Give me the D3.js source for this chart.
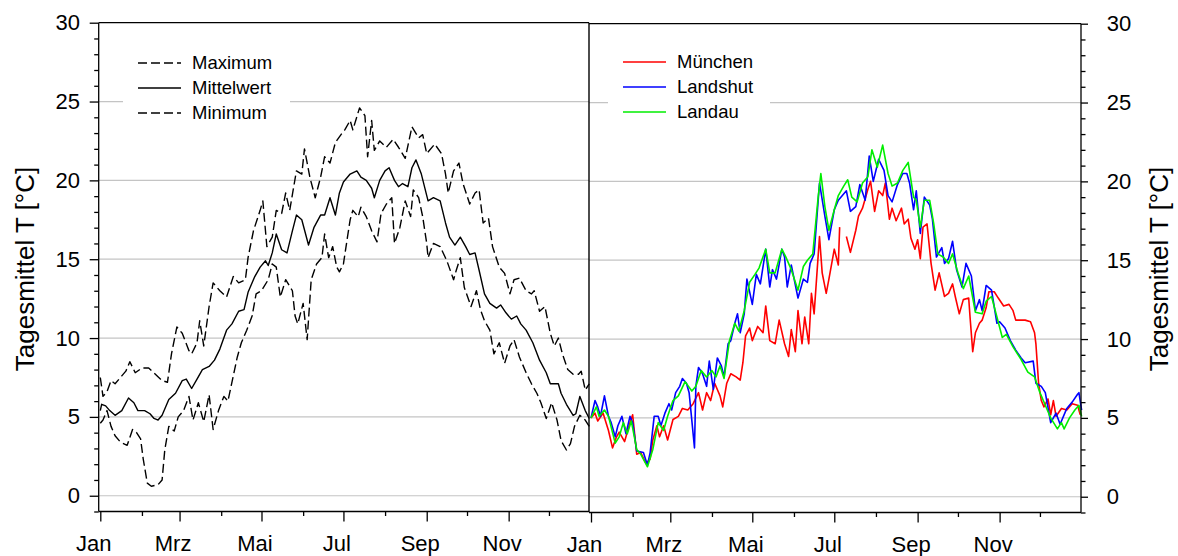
<!DOCTYPE html>
<html>
<head>
<meta charset="utf-8">
<script src="https://cdn.jsdelivr.net/npm/d3@7"></script>
<style>
    body { margin: 0; background: #fff; }
    svg { display: block; font-family: "Liberation Sans", Arial, sans-serif; }
</style>
</head>
<body>
<svg width="1178" height="556"></svg>
<script>
// [day of year, temperature]
let maxData = [[0,7.5],[2,6.3],[5,6.6],[8,7.3],[11,7.1],[16,7.6],[19,7.9],[22,8.5],[26,7.8],[31,8.1],[36,8.1],[41,7.7],[46,7.3],[50,7.2],[53,9.0],[57,10.7],[61,10.3],[66,9.2],[68,9.0],[72,9.7],[74,11.1],[77,9.5],[81,12.0],[84,13.5],[89,13.0],[94,12.6],[99,13.9],[103,13.5],[108,13.7],[110,15.1],[114,16.8],[119,18.1],[121,18.7],[124,15.8],[128,16.4],[131,18.1],[135,17.9],[138,19.2],[141,18.1],[144,19.6],[146,20.6],[150,20.4],[152,22.0],[156,20.2],[160,18.9],[164,20.2],[167,21.5],[171,21.1],[175,22.4],[180,23.0],
    [182,23.2],[186,23.8],[188,23.2],[193,24.6],[197,24.1],[199,21.5],[202,23.8],[204,21.9],[208,22.5],[213,22.1],[218,22.6],[222,22.1],[227,21.4],[232,23.4],[237,22.7],[240,22.9],[243,21.7],[249,22.3],[254,21.7],[257,20.4],[259,19.2],[263,20.6],[267,21.1],[270,19.8],[275,18.5],[279,19.2],[282,19.4],[285,17.3],[289,17.6],[292,15.8],[297,14.5],[301,14.1],[305,12.8],[308,13.7],[312,13.8],[317,13.0],[321,12.8],[323,13.0],[327,11.7],[331,12.0],[335,10.3],[338,9.5],[341,10.0],[344,9.0],[348,8.0],[352,7.7],[356,7.7],[358,7.9],[361,6.7],[364,7.1]];

let meanData = [[0,5.4],[1,5.8],[4,5.7],[7,5.4],[11,5.1],[16,5.4],[21,6.2],[25,5.9],[28,5.4],[33,5.4],[37,5.2],[40,4.9],[43,4.8],[46,5.1],[51,6.1],[56,6.5],[61,7.3],[64,7.4],[68,6.8],[72,7.4],[76,8.0],[81,8.2],[85,8.6],[89,9.3],[94,10.5],[98,10.9],[103,11.7],[107,11.8],[110,12.9],[115,13.9],[119,14.5],[123,14.9],[125,14.6],[128,15.4],[131,16.6],[135,15.6],[139,15.4],[143,16.8],[146,17.8],[150,17.5],[155,15.9],[159,17.0],[164,17.8],[167,17.8],[171,18.9],[175,17.8],[178,19.2],
    [181,19.9],[186,20.4],[191,20.6],[194,20.2],[198,20.0],[202,19.5],[204,18.9],[208,20.0],[212,20.6],[215,20.8],[219,20.0],[222,19.6],[225,19.8],[229,19.6],[232,20.8],[235,21.3],[239,20.4],[244,18.7],[248,18.9],[253,18.7],[257,17.3],[260,16.4],[264,15.9],[268,16.4],[272,15.8],[275,15.3],[279,15.4],[282,14.3],[286,12.8],[290,12.2],[295,11.9],[298,12.1],[302,11.6],[306,11.2],[310,11.4],[313,10.9],[317,10.5],[322,9.7],[327,8.6],[332,7.8],[335,7.1],[341,7.1],[343,6.5],[347,5.8],[352,5.1],[354,5.2],[357,6.3],[361,5.4],[364,4.9]];

let minData = [[0,4.6],[2,4.8],[5,5.4],[8,4.4],[11,3.8],[15,3.4],[20,3.2],[24,4.2],[27,4.0],[30,3.6],[32,2.3],[35,0.8],[38,0.6],[43,0.7],[46,1.0],[48,2.9],[51,4.4],[55,4.1],[58,5.0],[62,5.4],[66,6.3],[69,4.8],[73,5.9],[77,4.7],[81,6.4],[84,4.2],[88,5.4],[92,6.3],[95,6.0],[99,7.6],[102,8.8],[105,9.7],[109,10.5],[113,11.4],[116,12.8],[120,13.0],[125,13.7],[128,14.7],[131,14.5],[134,12.6],[138,13.7],[143,13.0],[145,11.4],[147,10.9],[151,12.2],[154,9.9],[157,13.7],[161,14.7],[165,15.1],[167,16.6],[170,15.1],[173,15.8],[176,14.5],[178,14.2],
    [181,14.7],[184,16.4],[186,17.5],[188,18.1],[192,17.7],[194,18.3],[198,17.7],[202,16.8],[206,16.1],[209,17.9],[213,18.5],[217,18.9],[219,16.0],[223,17.0],[227,18.7],[231,17.7],[233,19.4],[237,18.9],[240,17.7],[243,16.0],[244,15.1],[248,16.0],[253,15.8],[258,14.9],[263,13.7],[265,14.3],[268,15.1],[271,13.2],[276,12.0],[280,13.0],[283,11.8],[286,11.1],[290,10.5],[293,9.0],[297,9.7],[301,8.4],[305,9.5],[308,9.9],[312,8.8],[317,7.8],[321,7.1],[325,6.5],[328,5.9],[332,4.9],[336,5.9],[340,4.8],[343,3.5],[347,2.9],[350,3.3],[353,4.4],[357,5.1],[361,4.8],[364,4.4]];

// null = missing days
let muenchenData = [[0,5.0],[3,5.3],[5,4.8],[9,5.3],[13,4.2],[16,3.1],[19,3.8],[21,4.1],[25,3.5],[29,4.7],[31,5.2],[34,2.7],[37,2.8],[41,2.1],[44,2.4],[46,3.6],[49,4.5],[51,3.8],[54,4.5],[57,3.6],[61,4.9],[65,5.1],[68,5.6],[72,5.5],[76,5.9],[80,6.6],[83,5.5],[86,6.6],[89,6.1],[92,7.2],[96,6.4],[98,5.7],[101,7.2],[104,7.8],[108,7.6],[111,7.4],[113,8.5],[115,10.2],[118,10.7],[120,9.9],[124,10.8],[128,10.4],[130,12.1],[133,9.9],[137,9.7],[140,11.2],[144,9.7],[147,8.9],[149,10.6],[152,9.2],[154,11.8],[157,9.7],[159,11.4],[162,9.7],[164,12.9],[166,11.6],[170,16.5],[172,14.2],[175,12.9],[177,13.8],[181,15.7],[184,14.7],[185,17.1],[186,null],
    [190,16.5],[193,15.5],[197,16.9],[199,17.8],[202,18.3],[206,19.5],[208,20.0],[211,18.1],[214,19.4],[217,19.1],[219,19.9],[222,17.6],[224,18.3],[227,17.5],[231,18.3],[233,17.3],[236,17.6],[238,16.4],[241,15.7],[243,16.3],[245,15.1],[247,17.1],[250,17.3],[253,14.8],[256,13.1],[259,14.2],[263,12.7],[266,12.9],[269,13.5],[271,12.7],[274,11.6],[277,12.5],[281,12.6],[282,11.4],[284,9.2],[286,10.4],[289,11.0],[291,11.2],[294,12.0],[296,13.0],[300,13.0],[303,12.6],[307,12.1],[311,12.2],[314,11.8],[316,11.2],[320,11.2],[323,11.2],[327,11.1],[330,10.4],[331,9.7],[333,7.2],[335,6.1],[337,5.7],[340,6.2],[342,5.2],[344,6.1],[346,5.1],[350,5.6],[354,5.5],[358,5.9],[362,5.8],[364,5.2]];

let landshutData = [[0,5.0],[3,6.1],[5,5.7],[7,5.1],[10,6.4],[13,5.1],[15,4.7],[18,3.8],[20,4.5],[23,5.1],[26,4.0],[29,5.1],[31,4.7],[34,2.9],[39,2.8],[42,2.0],[44,2.8],[47,5.1],[50,5.1],[52,4.5],[55,5.3],[58,5.9],[60,5.5],[63,6.6],[66,7.0],[68,7.5],[71,7.2],[73,6.6],[77,3.1],[78,7.0],[80,8.2],[83,7.8],[86,7.0],[88,8.6],[91,6.8],[94,8.8],[97,8.3],[99,7.6],[102,9.7],[104,9.9],[107,11.0],[109,11.6],[111,10.4],[114,11.6],[116,13.8],[120,12.2],[123,14.1],[126,13.5],[130,15.7],[133,13.3],[135,14.4],[138,13.8],[142,15.7],[144,15.2],[146,13.3],[149,14.7],[154,12.6],[158,13.8],[161,13.6],[163,14.8],[166,15.4],[170,19.9],[174,17.8],[177,16.3],
    [181,18.2],[184,18.8],[187,19.1],[190,19.4],[193,18.1],[197,18.4],[200,19.8],[204,18.8],[207,21.6],[210,20.0],[214,21.4],[218,20.7],[221,19.1],[224,18.7],[228,19.8],[232,20.5],[235,20.5],[237,19.9],[240,18.2],[242,19.4],[245,16.7],[248,19.0],[252,18.5],[254,17.6],[257,15.2],[261,15.8],[263,14.8],[266,15.1],[269,16.2],[272,14.4],[276,13.3],[279,14.8],[283,14.0],[286,11.8],[289,12.5],[291,11.8],[294,13.4],[298,13.1],[302,11.0],[304,11.1],[308,10.7],[312,9.9],[316,9.3],[320,8.8],[323,8.5],[329,8.6],[331,7.2],[335,7.0],[338,6.6],[342,4.7],[346,5.3],[349,4.6],[354,5.6],[358,6.0],[362,6.5],[363,6.6],[365,5.5]];

let landauData = [[0,5.0],[4,5.7],[6,5.1],[10,5.5],[13,5.1],[18,3.4],[21,3.8],[24,4.7],[27,4.0],[30,4.8],[34,3.0],[37,2.7],[42,1.9],[46,3.0],[50,4.7],[54,4.2],[57,5.1],[61,6.1],[65,6.4],[70,7.3],[75,6.7],[78,7.0],[82,8.0],[86,7.6],[90,8.0],[93,7.6],[96,8.3],[99,7.5],[103,9.9],[107,11.0],[110,10.5],[114,11.8],[118,13.6],[122,14.1],[125,14.5],[130,15.7],[133,14.2],[137,14.2],[142,15.7],[145,15.2],[149,14.4],[154,13.1],[158,14.6],[161,15.0],[165,15.4],[169,19.0],[171,20.5],[174,18.4],[177,16.9],
    [181,18.2],[184,19.1],[188,19.7],[191,20.1],[194,19.0],[198,18.7],[202,19.9],[206,20.3],[209,22.0],[213,20.9],[217,22.3],[221,20.5],[224,19.7],[228,19.9],[232,20.7],[236,21.2],[240,19.0],[242,18.8],[245,17.1],[248,18.8],[252,18.8],[255,17.3],[258,15.4],[262,15.2],[266,14.8],[269,15.4],[273,14.2],[277,13.2],[281,14.0],[286,11.7],[291,11.6],[294,12.4],[298,12.7],[302,11.4],[306,10.1],[309,10.3],[314,9.5],[320,8.7],[325,7.9],[330,7.6],[334,6.6],[338,5.8],[342,5.0],[347,4.3],[350,4.7],[352,4.3],[356,5.0],[360,5.5],[363,5.8],[365,5.1]];

let monthStarts = [0, 31, 59, 90, 120, 151, 181, 212, 243, 273, 304, 334];
let monthLabels = ["Jan", "Mrz", "Mai", "Jul", "Sep", "Nov"];
let yMajor = [0, 5, 10, 15, 20, 25, 30];
let gridValues = [0, 5, 10, 15, 20, 25];
let yTitle = "Tagesmittel T [°C]";

let leftSeries = [
    {name: "Maximum", data: maxData, color: "#000", dash: "9,4"},
    {name: "Mittelwert", data: meanData, color: "#000", dash: null},
    {name: "Minimum", data: minData, color: "#000", dash: "9,4"}
];
let rightSeries = [
    {name: "München", data: muenchenData, color: "#ff0000", dash: null},
    {name: "Landshut", data: landshutData, color: "#0000ff", dash: null},
    {name: "Landau", data: landauData, color: "#00ee00", dash: null}
];

const svg = d3.select("svg");

function drawPanel (opts) {
    let x = d3.scaleLinear().domain([0, 365]).range(opts.xRange);
    let y = d3.scaleLinear().domain([-1, 30]).range(opts.yRange);
    let g = svg.append("g");

    // grid
    g.selectAll("line.grid")
            .data(gridValues)
        .enter().append("line")
            .attr("class", "grid")
            .attr("x1", opts.box[0])
            .attr("x2", opts.box[1])
            .attr("y1", (d) => y(d))
            .attr("y2", (d) => y(d))
            .attr("stroke", "#c4c4c4")
            .attr("stroke-width", 1.2);

    // legend background hides the grid line
    g.append("rect")
        .attr("x", opts.legendBox[0])
        .attr("y", 40)
        .attr("width", opts.legendBox[1] - opts.legendBox[0])
        .attr("height", 85)
        .attr("fill", "#fff");

    // box
    g.append("path")
        .attr("d", `M${opts.box[0]},${y(30)}H${opts.box[1]}`)
        .attr("stroke", "#000").attr("stroke-width", 1.3).attr("fill", "none");

    // lines
    const line = d3.line()
        .defined((d) => d[1] !== null)
        .x((d) => x(d[0]))
        .y((d) => y(d[1]));
    g.selectAll("path.series")
            .data(opts.series)
        .enter().append("path")
            .attr("class", "series")
            .attr("d", (d) => line(d.data))
            .attr("fill", "none")
            .attr("stroke", (d) => d.color)
            .attr("stroke-width", opts.lineWidth)
            .attr("stroke-linejoin", "round")
            .attr("stroke-dasharray", (d) => d.dash);

    // x axis
    let majorDays = monthStarts.filter((d, i) => i % 2 === 0);
    let minorDays = monthStarts.filter((d, i) => i % 2 === 1);
    let xMajor = g.append("g")
        .attr("transform", `translate(0,${opts.yRange[0]})`)
        .call(d3.axisBottom(x).tickValues(majorDays).tickSize(10).tickSizeOuter(0).tickPadding(13.5)
            .tickFormat((d, i) => monthLabels[i]));
    g.append("g")
        .attr("transform", `translate(0,${opts.yRange[0]})`)
        .call(d3.axisBottom(x).tickValues(minorDays).tickSize(4.5).tickSizeOuter(0).tickFormat(""));
    xMajor.selectAll("text").attr("transform", "translate(-7,0)");
    g.selectAll(".domain").remove();
    g.append("path")
        .attr("d", `M${opts.box[0]},${opts.yRange[0]}H${opts.box[1]}`)
        .attr("stroke", "#000").attr("stroke-width", 1.3);

    // y axis
    let axisFn = opts.side === "left" ? d3.axisLeft : d3.axisRight;
    let yAxisG = g.append("g")
        .attr("transform", `translate(${opts.axisX},0)`)
        .call(axisFn(y).tickValues(yMajor).tickSize(opts.side === "left" ? 9 : 7).tickSizeOuter(0)
            .tickPadding(opts.side === "left" ? 9.7 : 18.7));
    g.append("g")
        .attr("transform", `translate(${opts.axisX},0)`)
        .call(axisFn(y).tickValues(d3.range(-1, 31).filter((v) => v % 5 !== 0)).tickSize(4.5).tickSizeOuter(0).tickFormat(""));
    g.selectAll(".domain").remove();
    g.append("path")
        .attr("d", `M${opts.axisX},${y(30)}V${opts.yRange[0]}`)
        .attr("stroke", "#000").attr("stroke-width", 1.3);

    g.selectAll(".tick line").attr("stroke", "#000").attr("stroke-width", 1.3);
    g.selectAll(".tick text")
        .attr("fill", "#000")
        .style("font-size", "22px")
        .style("font-family", "'Liberation Sans', Arial, sans-serif");

    // axis title
    g.append("text")
        .attr("transform", `translate(${opts.titleX},${269}) rotate(-90)`)
        .attr("text-anchor", "middle")
        .style("font-size", "26px")
        .text(yTitle);

    // legend
    let leg = g.selectAll("g.legend")
            .data(opts.series)
        .enter().append("g")
            .attr("class", "legend")
            .attr("transform", (d, i) => `translate(0,${opts.legendY + i * 25})`);
    leg.append("line")
        .attr("x1", opts.legendX)
        .attr("x2", opts.legendX + 43)
        .attr("stroke", (d) => d.color)
        .attr("stroke-width", opts.lineWidth)
        .attr("stroke-dasharray", (d) => d.dash);
    leg.append("text")
        .attr("x", opts.legendX + 54)
        .attr("dy", "0.35em")
        .style("font-size", "18.5px")
        .text((d) => d.name);
}

drawPanel({
    side: "left",
    series: leftSeries,
    xRange: [100.3, 590.6],
    yRange: [511.5, 22.7],
    box: [98.7, 589],
    axisX: 98.7,
    titleX: 34,
    legendX: 138,
    legendY: 63,
    legendBox: [123, 290],
    lineWidth: 1.4
});

drawPanel({
    side: "right",
    series: rightSeries,
    xRange: [591, 1081.6],
    yRange: [512.5, 23.7],
    box: [589, 1081],
    axisX: 1081,
    titleX: 1168,
    legendX: 623,
    legendY: 62,
    legendBox: [608, 770],
    lineWidth: 1.6
});

// panel separator
svg.append("line")
    .attr("x1", 589).attr("x2", 589)
    .attr("y1", 22.7).attr("y2", 512)
    .attr("stroke", "#000").attr("stroke-width", 1.4);
</script>
</body>
</html>
